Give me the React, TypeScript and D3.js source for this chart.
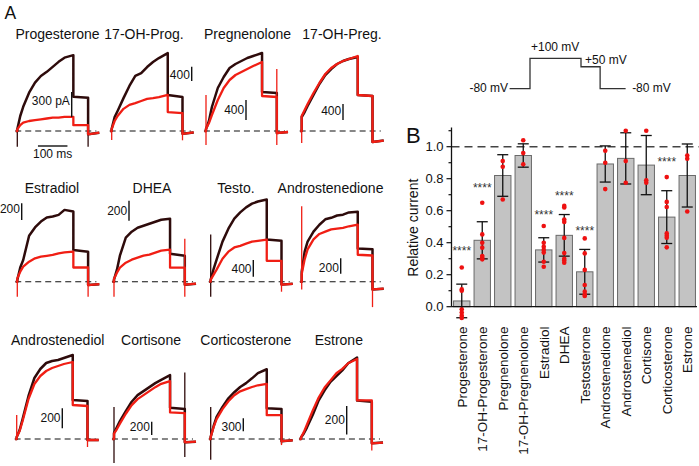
import React from 'react';
import * as d3 from 'd3';

// ---------------- Panel A data (currents in pA) ----------------
const panelNames = ['Progesterone', '17-OH-Prog.', 'Pregnenolone', '17-OH-Preg.',
  'Estradiol', 'DHEA', 'Testo.', 'Androstenedione',
  'Androstenediol', 'Cortisone', 'Corticosterone', 'Estrone'];
const scaleBarValues = [300, 400, 400, 400, 200, 200, 400, 200, 200, 200, 300, 200];
const scaleBarLabels = ['300 pA', '400', '400', '400', '200', '200', '400', '200', '200', '200', '300', '200'];
// time points (ms) of the +100 mV step
const stepTimes = [0, 10, 20, 40, 60, 80, 100, 120, 140, 160, 190];
const holdTimes = [190, 240];
const tailTimes = [240, 278];
const ctrlStep = [
  [20, 180, 290, 460, 580, 660, 710, 770, 830, 880, 910],
  [60, 390, 560, 920, 1260, 1540, 1620, 1790, 1930, 2040, 2180],
  [40, 200, 480, 860, 1080, 1260, 1340, 1400, 1460, 1500, 1560],
  [350, 475, 625, 900, 1175, 1400, 1550, 1675, 1750, 1800, 1850],
  [20, 170, 260, 550, 650, 720, 770, 780, 800, 860, 840],
  [20, 120, 260, 440, 500, 540, 560, 580, 600, 620, 630],
  [50, 310, 530, 960, 1270, 1510, 1660, 1780, 1870, 1920, 1970],
  [130, 390, 520, 650, 740, 810, 830, 860, 870, 900, 910],
  [20, 90, 200, 430, 610, 700, 760, 780, 790, 810, 840],
  [90, 180, 270, 420, 560, 660, 720, 780, 840, 890, 960],
  [50, 300, 510, 740, 940, 1080, 1200, 1290, 1400, 1520, 1610],
  [10, 40, 80, 170, 270, 340, 400, 440, 480, 530, 570],
];
const drugStep = [
  [20, 70, 100, 120, 130, 140, 150, 160, 160, 170, 170],
  [60, 280, 420, 620, 730, 780, 840, 900, 920, 950, 1010],
  [40, 160, 320, 620, 860, 1020, 1120, 1180, 1240, 1300, 1380],
  [375, 525, 675, 950, 1200, 1425, 1575, 1675, 1750, 1800, 1875],
  [40, 120, 180, 240, 280, 300, 310, 320, 340, 350, 360],
  [30, 90, 140, 190, 220, 240, 260, 270, 290, 310, 320],
  [50, 170, 290, 550, 720, 820, 860, 910, 960, 980, 1010],
  [100, 290, 420, 550, 620, 650, 680, 690, 700, 720, 740],
  [20, 80, 180, 400, 550, 630, 680, 710, 730, 750, 770],
  [80, 150, 230, 380, 510, 600, 660, 720, 780, 830, 870],
  [50, 280, 460, 690, 870, 1010, 1100, 1150, 1200, 1240, 1270],
  [10, 50, 100, 200, 290, 360, 410, 460, 490, 530, 560],
];
const ctrlHold = [[410, 400], [1010, 950], [780, 760], [900, 875], [380, 360], [280, 260],
  [1010, 980], [430, 420], [390, 380], [470, 450], [710, 690], [270, 260]];
const drugHold = [[70, 70], [530, 500], [700, 680], [900, 875], [170, 170], [140, 140],
  [500, 500], [350, 340], [340, 330], [400, 390], [550, 550], [270, 270]];
const tailCurrent = [[-40, -20], [-80, -40], [-40, -20], [-275, -240], [-40, -30], [-30, -20],
  [-70, -50], [-100, -90], [-10, -10], [-50, -40], [-50, -30], [-30, -25]];
const ctrlSpikeOn = [[-190, 0], [0, 0], [0, 0], [0, 0], [0, 0], [0, 0], [-360, 1130], [0, 0], [0, 0], [-360, 480], [-480, 740], [0, 0]];
const ctrlSpikeOff = [[-190, 280], [0, 0], [0, 0], [0, 0], [0, 0], [0, 0], [0, 0], [0, 0], [0, 0], [-270, 1000], [-120, 0], [0, 0]];
const drugSpikeOn = [[0, 0], [-250, 0], [-280, 720], [-300, 0], [-180, 0], [-150, 0], [0, 0], [-100, 980], [0, 240], [0, 0], [0, 0], [0, 0]];
const drugSpikeOff = [[0, 0], [-260, 0], [-280, 1240], [-300, 0], [-180, 0], [-150, 430], [-240, 0], [-330, 0], [-80, 0], [0, 0], [-140, 0], [-80, 0]];

// voltage protocol
const protocolTimes = [-80, 0, 200, 275, 375];
const protocolVolts = [-80, 100, 50, -80];

// ---------------- Panel B data ----------------
const categoriesB = ['Progesterone', '17-OH-Progesterone', 'Pregnenolone', '17-OH-Pregnenolone',
  'Estradiol', 'DHEA', 'Testosterone', 'Androstenedione', 'Androstenediol', 'Cortisone',
  'Corticosterone', 'Estrone'];
const meansB = [0.036, 0.415, 0.82, 0.945, 0.355, 0.446, 0.218, 0.892, 0.927, 0.885, 0.56, 0.82];
const sdB = [0.105, 0.116, 0.13, 0.073, 0.076, 0.13, 0.14, 0.113, 0.16, 0.185, 0.165, 0.197];
const pointsB = [
  [0.245, 0.108, 0.1, -0.016, -0.037, -0.056, -0.07],
  [0.65, 0.452, 0.4, 0.369, 0.317, 0.306, 0.296],
  [0.91, 0.875, 0.67],
  [1.04, 0.96, 0.89],
  [0.504, 0.4, 0.375, 0.355, 0.338, 0.281, 0.25],
  [0.63, 0.62, 0.545, 0.53, 0.43, 0.335, 0.3, 0.288, 0.275],
  [0.427, 0.333, 0.23, 0.136, 0.094, 0.075, 0.067],
  [0.975, 0.9, 0.735],
  [1.1, 0.91, 0.775],
  [1.1, 0.79, 0.775],
  [0.81, 0.655, 0.623, 0.458, 0.444, 0.431, 0.371],
  [0.945, 0.925, 0.595],
];
const starLevels = [0.365, 0.76, null, null, 0.59, 0.71, 0.49, null, null, null, 0.92, null];
const yTicksB = [0, 0.2, 0.4, 0.6, 0.8, 1.0];
const yMinorB = [0.1, 0.3, 0.5, 0.7, 0.9, 1.1];

// ---------------- layout ----------------
const FONT = "'Liberation Sans', Arial, Helvetica, sans-serif";
const BLACK = '#2e0b0b';
const RED = '#f01e14';
const panelX0 = [17.3, 111.7, 206, 301.7, 17.3, 114, 210.7, 301.7, 16.7, 114, 210.7, 301];
const rowBaseY = [131, 281.7, 439];
const rowTitleY = [39, 193.3, 345];
const titleCX = [57.5, 144, 247.5, 342, 52, 152, 236, 330.5, 57.7, 151, 245.8, 338.8];
const barX = [71.7, 191.7, 246, 343, 21.7, 129, 253.3, 340.7, 62.3, 151.7, 243.3, 346.7];
const barBottom = [117, 81, 120, 120, 220, 220.7, 276.7, 273.7, 428.3, 435, 431.3, 434.6];
const barLen = [25, 14.3, 20, 16, 16.7, 20, 16.7, 15.4, 20, 13.3, 13, 28.6];
const labelBase = [105, 78.5, 113.5, 115, 213, 215, 273, 271.7, 421.7, 430.7, 430.7, 424];

function TracePanel({ i }: { i: number }) {
  const row = Math.floor(i / 4);
  const x0 = panelX0[i];
  const baseY = rowBaseY[row];
  const xs = d3.scaleLinear().domain([0, 100]).range([x0, x0 + 29.5]);
  const ys = d3.scaleLinear().domain([0, scaleBarValues[i]]).range([baseY, baseY - barLen[i]]);
  const line = d3.line<[number, number]>().x(d => xs(d[0])).y(d => ys(d[1]));
  const build = (step: number[], hold: number[]): [number, number][] => {
    const pts: [number, number][] = [[-5, 0], [0, 0]];
    step.forEach((v, k) => pts.push([stepTimes[k], v]));
    pts.push([holdTimes[0], hold[0]], [holdTimes[1], hold[1]]);
    pts.push([tailTimes[0], tailCurrent[i][0]], [tailTimes[1], tailCurrent[i][1]]);
    return pts;
  };
  const spikes = (on: number[], off: number[], color: string, key: string) => (
    <g key={key}>
      {on[0] !== on[1] && <line x1={xs(0)} x2={xs(0)} y1={ys(on[0])} y2={ys(on[1])} stroke={color} strokeWidth={1.3} />}
      {off[0] !== off[1] && <line x1={xs(holdTimes[1])} x2={xs(holdTimes[1])} y1={ys(off[0])} y2={ys(off[1])} stroke={color} strokeWidth={1.3} />}
    </g>
  );
  return (
    <g>
      <text x={titleCX[i]} y={rowTitleY[row]} textAnchor="middle" fontSize={14} fontFamily={FONT} fill="#111">{panelNames[i]}</text>
      <line x1={xs(-7)} x2={xs(268)} y1={baseY} y2={baseY} stroke="#111" strokeWidth={1.1} strokeDasharray="6,4" />
      {spikes(ctrlSpikeOn[i], ctrlSpikeOff[i], BLACK, 'c')}
      <path d={line(build(ctrlStep[i], ctrlHold[i])) || ''} fill="none" stroke={BLACK} strokeWidth={2.5} strokeLinejoin="round" />
      {spikes(drugSpikeOn[i], drugSpikeOff[i], RED, 'd')}
      <path d={line(build(drugStep[i], drugHold[i])) || ''} fill="none" stroke={RED} strokeWidth={2.3} strokeLinejoin="round" />
      <line x1={barX[i]} x2={barX[i]} y1={barBottom[i]} y2={barBottom[i] - barLen[i]} stroke="#111" strokeWidth={1.4} />
      <text x={barX[i] - 1.8} y={labelBase[i]} textAnchor="end" fontSize={12} fontFamily={FONT} fill="#111">{scaleBarLabels[i]}</text>
      {i === 0 && (
        <g>
          <line x1={xs(70)} x2={xs(170)} y1={146} y2={146} stroke="#111" strokeWidth={1.4} />
          <text x={(xs(70) + xs(170)) / 2} y={157.5} textAnchor="middle" fontSize={12} fontFamily={FONT} fill="#111">100 ms</text>
        </g>
      )}
    </g>
  );
}

function Protocol() {
  const xp = d3.scaleLinear().domain([0, 100]).range([530, 555.5]);
  const yp = d3.scaleLinear().domain([-80, 100]).range([88.7, 58.3]);
  const pts: [number, number][] = [];
  protocolVolts.forEach((v, k) => { pts.push([protocolTimes[k], v], [protocolTimes[k + 1], v]); });
  const line = d3.line<[number, number]>().x(d => xp(d[0])).y(d => yp(d[1]));
  return (
    <g fontFamily={FONT} fontSize={12} fill="#111">
      <path d={line(pts) || ''} fill="none" stroke="#333" strokeWidth={1.3} />
      <text x={xp(protocolTimes[0]) - 1.5} y={92} textAnchor="end">-80 mV</text>
      <text x={xp(0) + 1} y={51}>+100 mV</text>
      <text x={xp(protocolTimes[2]) + 4} y={63.5}>+50 mV</text>
      <text x={xp(protocolTimes[4]) + 6.5} y={92}>-80 mV</text>
    </g>
  );
}

function PanelB() {
  const x = d3.scaleBand<string>().domain(categoriesB).range([451.5, 697.5]).paddingInner(0.2).paddingOuter(0.1);
  const y = d3.scaleLinear().domain([0, 1]).range([306.7, 146.7]);
  const axX = 451.5;
  const bw = x.bandwidth();
  return (
    <g fontFamily={FONT}>
      <text x={406} y={143.3} fontSize={22} fill="#111">B</text>
      {categoriesB.map((c, i) => (
        <rect key={c} x={x(c)} y={y(meansB[i])} width={bw} height={y(0) - y(meansB[i])}
          fill="#c3c3c3" stroke="#6a6a6a" strokeWidth={1} />
      ))}
      <line x1={axX} x2={699} y1={y(1)} y2={y(1)} stroke="#444" strokeWidth={1.4} strokeDasharray="8,5" />
      {categoriesB.map((c, i) => {
        const cx = (x(c) as number) + bw / 2;
        const hi = y(meansB[i] + sdB[i]);
        const lo = y(meansB[i] - sdB[i]);
        return (
          <g key={c} stroke="#111" strokeWidth={1.3}>
            <line x1={cx} x2={cx} y1={hi} y2={lo} />
            <line x1={cx - 5.5} x2={cx + 5.5} y1={hi} y2={hi} />
            <line x1={cx - 5.5} x2={cx + 5.5} y1={lo} y2={lo} />
          </g>
        );
      })}
      {categoriesB.map((c, i) => {
        const cx = (x(c) as number) + bw / 2;
        return pointsB[i].map((v, k) => <circle key={c + k} cx={cx} cy={y(v)} r={2.3} fill="#ee1111" />);
      })}
      {categoriesB.map((c, i) => starLevels[i] === null ? null : (
        <text key={c} x={(x(c) as number) + bw / 2} y={y(starLevels[i] as number) + 6.8} textAnchor="middle" fontSize={12} fill="#333">****</text>
      ))}
      <line x1={axX} x2={axX} y1={y(0)} y2={y(1.12)} stroke="#111" strokeWidth={1.3} />
      <line x1={axX} x2={697} y1={y(0)} y2={y(0)} stroke="#111" strokeWidth={1.3} />
      {yTicksB.map(t => (
        <g key={t}>
          <line x1={axX - 5} x2={axX} y1={y(t)} y2={y(t)} stroke="#111" strokeWidth={1.2} />
          <text x={axX - 8} y={y(t) + 4.5} textAnchor="end" fontSize={13} fill="#111">{d3.format('.1f')(t)}</text>
        </g>
      ))}
      {yMinorB.map(t => (
        <line key={t} x1={axX - 3} x2={axX} y1={y(t)} y2={y(t)} stroke="#111" strokeWidth={1.2} />
      ))}
      <text transform={`translate(418,${(y(0) + y(1)) / 2 + 1}) rotate(-90)`} textAnchor="middle" fontSize={14} fill="#111">Relative current</text>
      {categoriesB.map(c => (
        <text key={c} transform={`translate(${(x(c) as number) + bw / 2 + 4.8},326.5) rotate(-90)`} textAnchor="end" fontSize={13.5} fill="#111">{c}</text>
      ))}
    </g>
  );
}

export default function App() {
  return (
    <svg width={699} height={466} style={{ position: 'absolute', left: 0, top: 0, background: '#fff' }}>
      <rect width={699} height={466} fill="#fff" />
      <text x={4.5} y={19} fontSize={17.5} fontFamily={FONT} fill="#111">A</text>
      {panelNames.map((_, i) => <TracePanel key={i} i={i} />)}
      <Protocol />
      <PanelB />
    </svg>
  );
}
